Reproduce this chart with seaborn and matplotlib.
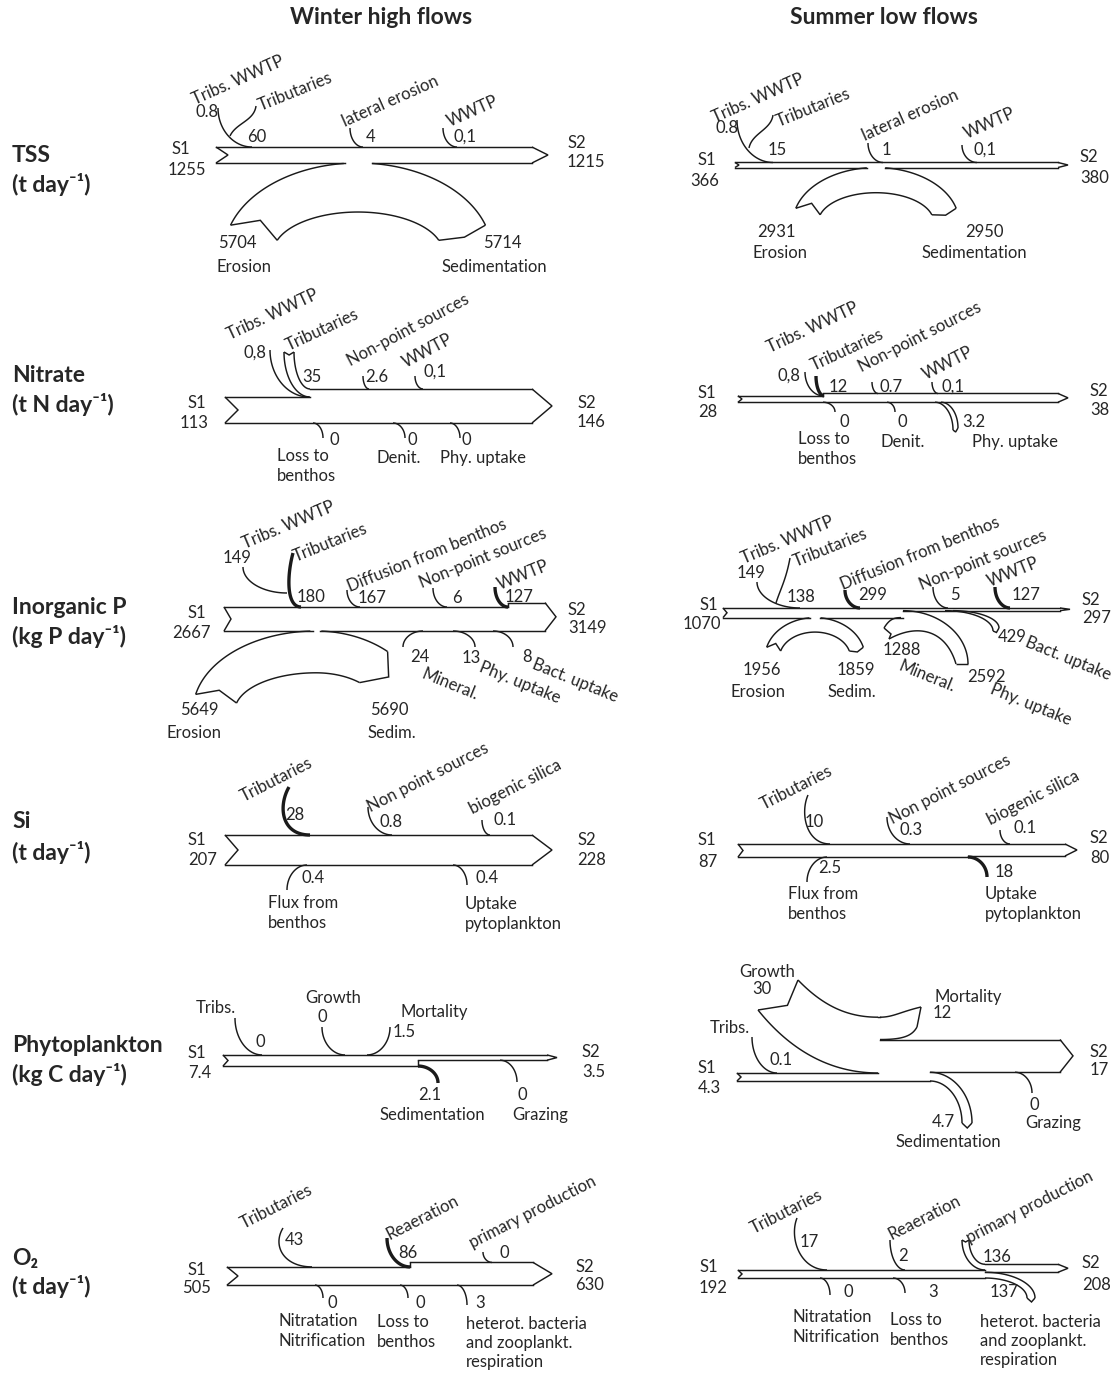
import numpy as np
import matplotlib
matplotlib.use("Agg")
import matplotlib.pyplot as plt
import seaborn as sns

# ---------------- data (values exactly as printed in the figure) ----------------
col_titles = ["Winter high flows", "Summer low flows"]
row_names = ["TSS", "Nitrate", "Inorganic P", "Si", "Phytoplankton", "O₂"]
row_units = ["(t day⁻¹)", "(t N day⁻¹)", "(kg P day⁻¹)", "(t day⁻¹)", "(kg C day⁻¹)", "(t day⁻¹)"]

tss_labels = ["Tribs. WWTP", "Tributaries", "lateral erosion", "WWTP", "Erosion", "Sedimentation"]
tss_w = ["0.8", "60", "4", "0,1", "5704", "5714"]
tss_s = ["0.8", "15", "1", "0,1", "2931", "2950"]
tss_ends_w = ["1255", "1215"]
tss_ends_s = ["366", "380"]

no3_labels = ["Tribs. WWTP", "Tributaries", "Non-point sources", "WWTP",
              "Loss to\nbenthos", "Denit.", "Phy. uptake"]
no3_w = ["0,8", "35", "2.6", "0,1", "0", "0", "0"]
no3_s = ["0,8", "12", "0.7", "0,1", "0", "0", "3.2"]
no3_ends_w = ["113", "146"]
no3_ends_s = ["28", "38"]

p_labels = ["Tribs. WWTP", "Tributaries", "Diffusion from benthos", "Non-point sources", "WWTP",
            "Mineral.", "Phy. uptake", "Bact. uptake", "Erosion", "Sedim."]
p_w = ["149", "180", "167", "6", "127", "24", "13", "8", "5649", "5690"]
p_s = ["149", "138", "299", "5", "127", "1288", "2592", "429", "1956", "1859"]
p_ends_w = ["2667", "3149"]
p_ends_s = ["1070", "297"]

si_labels = ["Tributaries", "Non point sources", "biogenic silica",
             "Flux from\nbenthos", "Uptake\npytoplankton"]
si_w = ["28", "0.8", "0.1", "0.4", "0.4"]
si_s = ["10", "0.3", "0.1", "2.5", "18"]
si_ends_w = ["207", "228"]
si_ends_s = ["87", "80"]

phy_labels = ["Tribs.", "Growth", "Mortality", "Sedimentation", "Grazing"]
phy_w = ["0", "0", "1.5", "2.1", "0"]
phy_s = ["0.1", "30", "12", "4.7", "0"]
phy_ends_w = ["7.4", "3.5"]
phy_ends_s = ["4.3", "17"]

o2_labels = ["Tributaries", "Reaeration", "primary production", "Nitratation\nNitrification",
             "Loss to\nbenthos", "heterot. bacteria\nand zooplankt.\nrespiration"]
o2_w = ["43", "86", "0", "0", "0", "3"]
o2_s = ["17", "2", "136", "0", "3", "137"]
o2_ends_w = ["505", "630"]
o2_ends_s = ["192", "208"]

# ---------------- style ----------------
sns.set_theme(style="white")
FONT = ["Lato", "DejaVu Sans"]
plt.rcParams["font.family"] = FONT
FS = 12
LW = 1.05
BOLD = 2.4
K = 0.55
ARCH_TSS = 0.0086   # px per t/day for the erosion/sedimentation bands
ARCH_P = 0.0074


def num(s):
    return float(s.replace(",", "."))


def cubic(p0, p1, p2, p3, n=40):
    t = np.linspace(0, 1, n)[:, None]
    p0, p1, p2, p3 = (np.asarray(p, float) for p in (p0, p1, p2, p3))
    return (1 - t) ** 3 * p0 + 3 * (1 - t) ** 2 * t * p1 + 3 * (1 - t) * t ** 2 * p2 + t ** 3 * p3


def qc(p0, p1, start="v"):
    """quarter-like curve; start tangent vertical ('v') or horizontal ('h')"""
    (x0, y0), (x1, y1) = p0, p1
    if start == "v":
        c1, c2 = (x0, y0 + K * (y1 - y0)), (x1 - K * (x1 - x0), y1)
    else:
        c1, c2 = (x0 + K * (x1 - x0), y0), (x1, y1 - K * (y1 - y0))
    return cubic(p0, c1, c2, p1)


def stroke(ax, pts, lw=LW, z=4):
    pts = np.asarray(pts, float)
    ax.plot(pts[:, 0], pts[:, 1], color="k", lw=lw, zorder=z,
            solid_capstyle="butt", solid_joinstyle="miter")


def hseg(ax, xa, xb, y, gaps):
    segs = [(xa, xb)]
    for ga, gb in gaps:
        new = []
        for a, b in segs:
            if gb <= a or ga >= b:
                new.append((a, b))
            else:
                if a < ga:
                    new.append((a, ga))
                if gb < b:
                    new.append((gb, b))
        segs = new
    for a, b in segs:
        ax.plot([a, b], [y, y], color="k", lw=LW, zorder=4, solid_capstyle="projecting")


def main_arrow(ax, x0, x1, ymid, v0, sc, steps=(), gaps=(), head=15, notch=None):
    w0 = v0 * sc
    tops = [(x0, ymid - w0 / 2)]
    bots = [(x0, ymid + w0 / 2)]
    conns = []
    for xb, dv, side, conn in steps:
        if side == "top":
            yo = tops[-1][1]
            yn = yo - dv * sc
            tops.append((xb, yn))
        else:
            yo = bots[-1][1]
            yn = yo + dv * sc
            bots.append((xb, yn))
        if conn:
            conns.append((xb, yo, yn))
    xe = x1 - head
    ym = (tops[-1][1] + bots[-1][1]) / 2
    if notch is None:
        notch = min(13, 0.5 * w0)

    def runs(pts):
        return [(x, pts[i + 1][0] if i + 1 < len(pts) else xe, y) for i, (x, y) in enumerate(pts)]

    tr, br = runs(tops), runs(bots)
    poly = []
    for xa, xb, y in tr:
        poly += [(xa, y), (xb, y)]
    poly.append((x1, ym))
    for xa, xb, y in br[::-1]:
        poly += [(xb, y), (xa, y)]
    poly.append((x0 + notch, ymid))
    P = np.array(poly)
    ax.fill(P[:, 0], P[:, 1], color="white", lw=0, zorder=2)
    for xa, xb, y in tr:
        hseg(ax, xa, xb, y, ())
    for xa, xb, y in br:
        hseg(ax, xa, xb, y, gaps)
    for xb, yo, yn in conns:
        stroke(ax, [(xb, yo), (xb, yn)])
    stroke(ax, [(xe, tops[-1][1]), (x1, ym), (xe, bots[-1][1])])
    stroke(ax, [(x0, tops[0][1]), (x0 + notch, ymid), (x0, bots[0][1])])
    return [y for _, y in tops], [y for _, y in bots]


def band(ax, A, B, cap="notch", at="start", depth=4):
    if at == "start":
        pa, pb = A[0], B[0]
        d = (A[3] - A[0]) + (B[3] - B[0])
    else:
        pa, pb = A[-1], B[-1]
        d = (A[-4] - A[-1]) + (B[-4] - B[-1])
    d = d / np.hypot(*d)
    mid = (pa + pb) / 2
    cp = mid + d * depth if cap == "notch" else (mid - d * depth if cap == "point" else mid)
    poly = np.vstack([[cp], A, B[::-1]]) if at == "start" else np.vstack([A, [cp], B[::-1]])
    ax.fill(poly[:, 0], poly[:, 1], color="white", lw=0, zorder=3)
    stroke(ax, A)
    stroke(ax, B)
    stroke(ax, [pa, cp, pb])


def arch(ax, xt, yt, aL, aR, b, th, phL, phR, gap, notch=10, point=5):
    cy = yt + b

    def side(a, ph, s):
        t = np.radians(np.linspace(0, ph, 60))
        o = np.c_[xt + s * a * np.sin(t), cy - b * np.cos(t)]
        i = np.c_[xt + s * (a - th) * np.sin(t), cy - (b - th) * np.cos(t)]
        return o, i

    oL, iL = side(aL, phL, -1)
    oR, iR = side(aR, phR, 1)
    dL = oL[-3] - oL[-1]
    dL /= np.hypot(*dL)
    nL = (oL[-1] + iL[-1]) / 2 + dL * notch
    dR = oR[-1] - oR[-3]
    dR /= np.hypot(*dR)
    pR = (oR[-1] + iR[-1]) / 2 + dR * point
    poly = np.vstack([oL[::-1], oR, [pR], iR[::-1], iL, [nL]])
    ax.fill(poly[:, 0], poly[:, 1], color="white", lw=0, zorder=1)
    stroke(ax, oL[np.abs(oL[:, 0] - xt) >= gap])
    stroke(ax, oR[np.abs(oR[:, 0] - xt) >= gap])
    stroke(ax, np.vstack([iL[::-1], iR]))
    stroke(ax, [oL[-1], nL, iL[-1]])
    stroke(ax, [oR[-1], pR, iR[-1]])


def txt(ax, x, y, s, rot=0, ha="left", va="center", size=FS, weight="normal"):
    ax.text(x, y, s, rotation=rot, ha=ha, va=va, rotation_mode="anchor",
            fontsize=size, fontweight=weight, linespacing=1.25, zorder=6)


def put(ax, items):
    for it in items:
        x, y, s = it[:3]
        rot = it[3] if len(it) > 3 else 0
        txt(ax, x, y, s, rot=rot, ha="center" if rot else "left")


# ---------------- panels ----------------
def tss_winter(ax):
    L, V, E = tss_labels, tss_w, tss_ends_w
    t, b = main_arrow(ax, 216, 548, 155, num(E[0]), 0.0127, gaps=[(345, 372)], head=16, notch=12)
    stroke(ax, qc((218, 108), (252, t[0])))
    stroke(ax, cubic((256, 106), (254, 121), (236, 123), (230, 136)))
    stroke(ax, qc((350, 128), (363, t[0])))
    stroke(ax, qc((443, 128), (457, t[0])))
    arch(ax, 358, b[0], 134, 134, 90, num(V[4]) * ARCH_TSS, 72, 72, gap=13, notch=14, point=5)
    put(ax, [(238, 80, L[0], 24), (195, 112, V[0]), (295, 92, L[1], 22), (247, 137, V[1]),
             (390, 101, L[2], 24), (366, 137, V[2]), (473, 111, L[3], 24), (453, 137, V[3]),
             (172, 149, "S1"), (168, 170, E[0]), (567, 143, "S2"), (567, 162, E[1]),
             (218, 243, V[4]), (216, 267, L[4]), (483, 243, V[5]), (442, 267, L[5])])


def tss_summer(ax):
    L, V, E = tss_labels, tss_s, tss_ends_s
    t, b = main_arrow(ax, 735, 1068, 165, num(E[0]), 0.0137, gaps=[(867, 885)], head=10, notch=4)
    stroke(ax, qc((737, 120), (773, t[0])))
    stroke(ax, cubic((773, 115), (771, 130), (752, 133), (749, 148)))
    stroke(ax, qc((868, 143), (883, t[0])))
    stroke(ax, qc((962, 145), (977, t[0])))
    arch(ax, 876, b[0], 83, 83, 55, num(V[4]) * ARCH_TSS, 75, 75, gap=9, notch=9, point=4)
    put(ax, [(758, 98, L[0], 24), (715, 128, V[0]), (813, 108, L[1], 22), (768, 150, V[1]),
             (910, 115, L[2], 24), (882, 150, V[2]), (990, 123, L[3], 24), (973, 150, V[3]),
             (697, 160, "S1"), (690, 181, E[0]), (1080, 157, "S2"), (1080, 178, E[1]),
             (757, 232, V[4]), (753, 253, L[4]), (965, 232, V[5]), (922, 253, L[5])])


def no3_winter(ax):
    L, V, E = no3_labels, no3_w, no3_ends_w
    sc = 0.23
    t, b = main_arrow(ax, 225, 552, 410, num(E[0]), sc, steps=[(310, num(V[1]), "top", False)],
                      head=20, notch=13)
    band(ax, qc((284, 352), (310, t[0])), qc((294, 352), (310, t[1])), cap="notch", depth=3)
    stroke(ax, qc((270, 350), (309, t[0])))
    stroke(ax, qc((363, 376), (369, t[1])))
    stroke(ax, qc((415, 376), (423, t[1])))
    for xa, xe in [(313, 323), (393, 405), (450, 460)]:
        stroke(ax, qc((xa, b[0]), (xe, 438), "h"))
    put(ax, [(273, 315, L[0], 25), (244, 353, V[0]), (322, 330, L[1], 25), (302, 377, V[1]),
             (408, 330, L[2], 28), (365, 377, V[2]), (427, 351, L[3], 28), (423, 372, V[3]),
             (329, 440, V[4]), (277, 466, L[4]), (408, 440, V[5]), (377, 458, L[5]),
             (462, 440, V[6]), (440, 458, L[6]),
             (188, 403, "S1"), (180, 423, E[0]), (577, 403, "S2"), (577, 422, E[1])])


def no3_summer(ax):
    L, V, E = no3_labels, no3_s, no3_ends_s
    sc = 0.23
    t, b = main_arrow(ax, 738, 1068, 399, num(E[0]), sc,
                      steps=[(823, num(E[1]) - num(E[0]), "top", True)], head=10, notch=4)
    stroke(ax, qc((805, 372), (823, t[0])))
    stroke(ax, qc((816, 376), (824, t[0])), lw=BOLD)
    stroke(ax, qc((872, 382), (878, t[1])))
    stroke(ax, qc((932, 382), (938, t[1])))
    stroke(ax, qc((823, b[0]), (835, 412), "h"))
    stroke(ax, qc((887, b[0]), (895, 412), "h"))
    band(ax, qc((935, b[0]), (953, 430), "h"), qc((941, b[0]), (958, 428), "h"),
         cap="point", at="end", depth=3)
    put(ax, [(813, 328, L[0], 25), (777, 376, V[0]), (847, 350, L[1], 25), (829, 387, V[1]),
             (920, 337, L[2], 27), (880, 387, V[2]), (948, 363, L[3], 27), (942, 387, V[3]),
             (840, 422, V[4]), (798, 449, L[4]), (898, 422, V[5]), (880, 442, L[5]),
             (962, 422, V[6]), (972, 442, L[6]),
             (698, 393, "S1"), (698, 412, E[0]), (1090, 391, "S2"), (1090, 410, E[1])])


def p_winter(ax):
    L, V, E = p_labels, p_w, p_ends_w
    sc = 0.009
    t, b = main_arrow(ax, 224, 556, 619, num(E[0]), sc,
                      steps=[(508, num(E[1]) - num(E[0]), "top", True)],
                      gaps=[(313, 320)], head=11, notch=7)
    stroke(ax, cubic((293, 553), (287, 575), (286, t[0]), (301, t[0])), lw=BOLD)
    stroke(ax, qc((243, 567), (287, 593)))
    stroke(ax, qc((347, 590), (360, t[0])))
    stroke(ax, qc((433, 588), (447, t[0])))
    stroke(ax, qc((495, 587), (508, t[0])), lw=BOLD)
    stroke(ax, qc((423, b[0]), (403, 647), "h"))
    stroke(ax, qc((453, b[0]), (475, 647), "h"))
    stroke(ax, qc((493, b[0]), (513, 647), "h"))
    arch(ax, 316, b[0], 123, 107, 80, num(V[8]) * ARCH_P, 78, 42, gap=4, notch=9, point=18)
    put(ax, [(288, 525, L[0], 23), (223, 558, V[0]), (330, 543, L[1], 22), (297, 597, V[1]),
             (427, 555, L[2], 22), (358, 598, V[2]), (483, 558, L[3], 22), (452, 598, V[3]),
             (523, 575, L[4], 22), (505, 597, V[4]),
             (410, 657, V[5]), (450, 685, L[5], -22), (462, 658, V[6]), (520, 683, L[6], -22),
             (522, 657, V[7]), (575, 681, L[7], -22),
             (180, 710, V[8]), (167, 733, L[8]), (370, 710, V[9]), (368, 733, L[9]),
             (187, 613, "S1"), (172, 633, E[0]), (568, 610, "S2"), (568, 628, E[1])])


def p_summer(ax):
    L, V, E = p_labels, p_s, p_ends_s
    sc = 0.009
    s1, s2 = num(E[0]), num(E[1])
    t, b = main_arrow(ax, 723, 1070, 612.8, s1, sc, steps=[(903, s2 - s1, "bot", False)],
                      gaps=[(810, 820)], head=10, notch=4)
    stroke(ax, qc((757, 582), (800, t[0])))
    stroke(ax, cubic((790, 558), (786, 580), (780, 590), (776, 603)))
    stroke(ax, qc((845, 590), (860, t[0])), lw=BOLD)
    stroke(ax, qc((933, 587), (948, t[0])))
    stroke(ax, qc((995, 587), (1010, t[0])), lw=BOLD)
    arch(ax, 815, b[0], 50, 50, 40, num(V[8]) * ARCH_P, 75, 75, gap=5, notch=6, point=3)
    # mineralisation flowing in, phytoplankton uptake leaving
    mup = cubic((884, 628), (889, 620), (893, b[0]), (901, b[0]))
    low = cubic((889, 639), (918, 623), (946, 630), (956, 664))
    pout = qc((903, b[1]), (968, 664), "h")
    tail = np.array([891, 634])
    poly = np.vstack([mup, [(903, b[0])], pout, low[::-1], [tail]])
    ax.fill(poly[:, 0], poly[:, 1], color="white", lw=0, zorder=3)
    stroke(ax, mup)
    stroke(ax, low)
    stroke(ax, pout)
    stroke(ax, [mup[0], tail, low[0]])
    stroke(ax, [low[-1], pout[-1]])
    band(ax, qc((945, b[1]), (993, 631), "h"), qc((953, b[1]), (999, 628), "h"),
         cap="point", at="end", depth=3)
    put(ax, [(787, 540, L[0], 23), (737, 573, V[0]), (830, 548, L[1], 22), (787, 597, V[1]),
             (920, 553, L[2], 22), (858, 595, V[2]), (983, 560, L[3], 22), (950, 595, V[3]),
             (1013, 572, L[4], 22), (1012, 595, V[4]),
             (883, 650, V[5]), (927, 677, L[5], -22), (967, 677, V[6]), (1031, 705, L[6], -22),
             (998, 637, V[7]), (1068, 659, L[7], -22),
             (743, 670, V[8]), (730, 692, L[8]), (837, 670, V[9]), (828, 692, L[9]),
             (700, 605, "S1"), (683, 624, E[0]), (1082, 600, "S2"), (1082, 618, E[1])])


def si_winter(ax):
    L, V, E = si_labels, si_w, si_ends_w
    t, b = main_arrow(ax, 225, 552, 850, num(E[0]), 0.145, head=20, notch=13)
    stroke(ax, cubic((289, 787), (278, 806), (281, t[0]), (310, t[0])), lw=BOLD)
    stroke(ax, qc((368, 807), (392, t[0])))
    stroke(ax, qc((482, 820), (490, t[0])))
    stroke(ax, qc((287, 890), (307, b[0])))
    stroke(ax, qc((453, b[0]), (467, 885), "h"))
    put(ax, [(277, 780, L[0], 27), (285, 815, V[0]), (428, 778, L[1], 27), (380, 822, V[1]),
             (515, 787, L[2], 27), (493, 820, V[2]),
             (302, 878, V[3]), (268, 913, L[3]), (475, 878, V[4]), (465, 914, L[4]),
             (188, 840, "S1"), (188, 860, E[0]), (577, 840, "S2"), (577, 860, E[1])])


def si_summer(ax):
    L, V, E = si_labels, si_s, si_ends_s
    sc = 0.15
    t, b = main_arrow(ax, 738, 1077, 850.5, num(E[0]), sc,
                      steps=[(968, num(E[1]) - num(E[0]), "bot", True)], head=12, notch=5)
    stroke(ax, cubic((808, 795), (800, 813), (806, t[0]), (830, t[0])))
    stroke(ax, qc((887, 817), (910, t[0])))
    stroke(ax, qc((1000, 830), (1010, t[0])))
    stroke(ax, qc((807, 882), (827, b[0])))
    stroke(ax, qc((968, b[0]), (987, 877), "h"), lw=BOLD)
    put(ax, [(797, 788, L[0], 27), (805, 822, V[0]), (950, 790, L[1], 27), (900, 830, V[1]),
             (1033, 798, L[2], 27), (1013, 828, V[2]),
             (818, 868, V[3]), (788, 904, L[3]), (995, 872, V[4]), (985, 904, L[4]),
             (698, 840, "S1"), (698, 862, E[0]), (1090, 838, "S2"), (1090, 858, E[1])])


def phy_winter(ax):
    L, V, E = phy_labels, phy_w, phy_ends_w
    sc = 1.5
    t, b = main_arrow(ax, 223, 557, 1060.5, num(E[0]), sc,
                      steps=[(418, num(E[1]) - num(E[0]), "bot", True)], head=10, notch=5)
    stroke(ax, qc((235, 1018), (262, t[0])))
    stroke(ax, qc((322, 1027), (345, t[0])))
    stroke(ax, qc((367, t[0]), (390, 1027), "h"))
    stroke(ax, qc((418, b[0]), (438, 1083), "h"), lw=BOLD)
    stroke(ax, qc((500, b[1]), (517, 1082), "h"))
    put(ax, [(196, 1008, L[0]), (256, 1042, V[0]), (305, 998, L[1]), (318, 1017, V[1]),
             (400, 1012, L[2]), (393, 1032, V[2]), (418, 1095, V[3]), (380, 1115, L[3]),
             (518, 1095, V[4]), (512, 1115, L[4]),
             (188, 1053, "S1"), (188, 1073, E[0]), (582, 1052, "S2"), (582, 1072, E[1])])


def phy_summer(ax):
    L, V, E = phy_labels, phy_s, phy_ends_s
    sc = 1.86
    v = [num(s) for s in V]
    t, b = main_arrow(ax, 737, 1073, 1077, num(E[0]), sc,
                      steps=[(878, v[1], "top", False), (880, -v[2], "top", False),
                             (930, -v[3], "bot", False)], head=13, notch=4)
    band(ax, cubic((758, 1010), (790, 1050), (830, t[0]), (878, t[0])),
         cubic((798, 980), (825, 1008), (850, t[1]), (878, t[1])), cap="notch", depth=14)
    band(ax, cubic((880, t[1]), (893, t[1]), (900, 1012), (921, 1007)),
         cubic((880, t[2]), (903, t[2]), (912, 1036), (917, 1027)), cap="flat", at="end")
    band(ax, qc((930, b[0]), (962, 1123), "h"), qc((930, b[1]), (972, 1123), "h"),
         cap="point", at="end", depth=5)
    stroke(ax, qc((752, 1037), (777, t[0])))
    stroke(ax, qc((1015, b[1]), (1032, 1093), "h"))
    put(ax, [(710, 1028, L[0]), (770, 1060, V[0]), (739, 972, L[1]), (752, 989, V[1]),
             (935, 997, L[2]), (933, 1013, V[2]), (932, 1122, V[3]), (895, 1142, L[3]),
             (1030, 1105, V[4]), (1025, 1123, L[4]),
             (698, 1068, "S1"), (698, 1088, E[0]), (1090, 1052, "S2"), (1090, 1070, E[1])])


def o2_winter(ax):
    L, V, E = o2_labels, o2_w, o2_ends_w
    sc = 0.036
    t, b = main_arrow(ax, 227, 552, 1276, num(E[0]), sc,
                      steps=[(410, num(E[1]) - num(E[0]), "top", True)], head=19, notch=11)
    stroke(ax, cubic((283, 1228), (272, 1246), (284, t[0]), (312, t[0])))
    stroke(ax, qc((387, 1238), (410, t[0])), lw=BOLD)
    stroke(ax, qc((483, 1252), (492, t[1])))
    stroke(ax, qc((315, b[0]), (323, 1298), "h"))
    stroke(ax, qc((400, b[0]), (408, 1298), "h"))
    stroke(ax, qc((457, b[0]), (467, 1305), "h"))
    put(ax, [(277, 1207, L[0], 27), (285, 1240, V[0]), (423, 1218, L[1], 27), (398, 1253, V[1]),
             (533, 1212, L[2], 27), (500, 1253, V[2]),
             (328, 1303, V[3]), (278, 1331, L[3]), (415, 1303, V[4]), (377, 1332, L[4]),
             (475, 1303, V[5]), (466, 1343, L[5]),
             (188, 1270, "S1"), (182, 1288, E[0]), (575, 1267, "S2"), (575, 1285, E[1])])


def o2_summer(ax):
    L, V, E = o2_labels, o2_s, o2_ends_s
    sc = 0.042
    t, b = main_arrow(ax, 738, 1068, 1274, num(E[0]), sc,
                      steps=[(985, num(V[2]), "top", False), (985, -num(V[5]), "bot", False)],
                      head=10, notch=4)
    stroke(ax, cubic((797, 1218), (789, 1238), (800, t[0]), (827, t[0])))
    stroke(ax, qc((890, 1240), (905, t[0])))
    band(ax, qc((962, 1240), (985, t[0])), qc((969, 1240), (985, t[1])), cap="notch", depth=2)
    band(ax, qc((985, b[0]), (1027, 1298), "h"), qc((985, b[1]), (1035, 1298), "h"),
         cap="point", at="end", depth=4)
    stroke(ax, qc((820, b[0]), (830, 1295), "h"))
    stroke(ax, qc((893, b[0]), (905, 1293), "h"))
    put(ax, [(787, 1212, L[0], 27), (800, 1242, V[0]), (925, 1218, L[1], 27), (898, 1256, V[1]),
             (1030, 1207, L[2], 27), (983, 1257, V[2]),
             (843, 1292, V[3]), (792, 1327, L[3]), (928, 1292, V[4]), (890, 1330, L[4]),
             (990, 1292, V[5]), (980, 1341, L[5]),
             (699, 1267, "S1"), (699, 1288, E[0]), (1082, 1263, "S2"), (1082, 1285, E[1])])


# ---------------- figure ----------------
fig = plt.figure(figsize=(11.17, 13.73), dpi=100)
ax = fig.add_axes([0, 0, 1, 1])
ax.set_xlim(0, 1117)
ax.set_ylim(1373, 0)
ax.axis("off")

for x, title in zip([381, 884], col_titles):
    txt(ax, x, 18, title, ha="center", size=16.5, weight="bold")

row_y = [(155, 184), (375, 404), (608, 637), (822, 852), (1046, 1075), (1258, 1286)]
for (y1, y2), name, unit in zip(row_y, row_names, row_units):
    txt(ax, 12, y1, name, size=16.5, weight="bold")
    txt(ax, 12, y2, unit, size=16.5, weight="bold")

for panel in [tss_winter, tss_summer, no3_winter, no3_summer, p_winter, p_summer,
              si_winter, si_summer, phy_winter, phy_summer, o2_winter, o2_summer]:
    panel(ax)

fig.savefig("out.png", dpi=100)
